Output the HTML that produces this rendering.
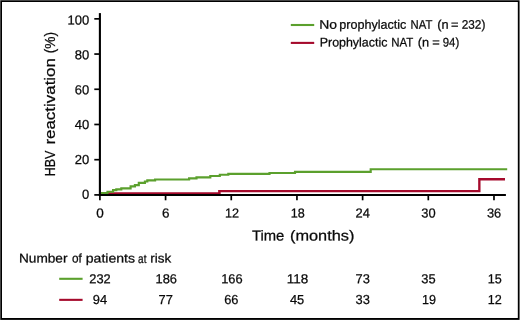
<!DOCTYPE html>
<html><head><meta charset="utf-8">
<style>
html,body{margin:0;padding:0;background:#fff;}
body{width:520px;height:320px;overflow:hidden;}
svg{display:block;will-change:transform;}
text{font-family:"Liberation Sans",sans-serif;fill:#0a0a0a;stroke:#0a0a0a;stroke-width:0.25px;}
</style></head><body>
<svg width="520" height="320" viewBox="0 0 520 320">
<rect x="0" y="0" width="520" height="320" fill="#fff"/>
<g shape-rendering="crispEdges">
<rect x="0" y="0" width="520" height="2" fill="#000"/>
<rect x="0" y="318" width="520" height="2" fill="#000"/>
<rect x="0" y="0" width="2" height="320" fill="#000"/>
<rect x="518" y="0" width="2" height="320" fill="#000"/>
<rect x="517" y="2" width="1" height="316" fill="#d0d0d0"/>
<rect x="0" y="0" width="520" height="1" fill="#454545"/>
<rect x="0" y="0" width="1" height="320" fill="#454545"/>
<rect x="519" y="0" width="1" height="320" fill="#6e6e6e"/>
<rect x="1" y="319" width="518" height="1" fill="#1c1c1c"/>
<rect x="0" y="0" width="1" height="1" fill="#6a6a6a"/>
<rect x="519" y="0" width="1" height="1" fill="#999"/>
<rect x="0" y="319" width="1" height="1" fill="#555"/>
<rect x="519" y="319" width="1" height="1" fill="#808080"/>
</g>
<polyline fill="none" stroke="#a50a2c" stroke-width="2.1" points="100.9,193.2 220.4,193.2"/>
<polyline fill="none" stroke="#a50a2c" stroke-width="2.35" stroke-linejoin="miter" points="219.3,194.0 219.3,191.1 479.35,191.1 479.35,179.2 505.0,179.2"/>
<polyline fill="none" stroke="#5ba02d" stroke-width="2.15" stroke-linejoin="miter" points="100.9,192.95 107.5,192.95 107.5,191.7 113.1,191.7 113.1,190.1 116.3,190.1 116.3,189.4 121.3,189.4 121.3,188.4 130.6,188.4 130.6,186.3 134.9,186.3 134.9,185.1 138.8,185.1 138.8,182.8 144.9,182.8 144.9,181.5 147.3,181.5 147.3,180.4 155.1,180.4 155.1,179.45 189.1,179.45 189.1,178.3 196.5,178.3 196.5,177.3 210.3,177.3 210.3,176.0 219.8,176.0 219.8,174.7 228.3,174.7 228.3,173.9 269.5,173.9 269.5,173.0 295.0,173.0 295.0,171.8 370.7,171.8 370.7,169.25 507.2,169.25"/>
<g stroke="#000" stroke-width="2.1" fill="none">
<line x1="99.9" y1="13.1" x2="99.9" y2="196.0"/>
<line x1="98.85" y1="194.95" x2="505.9" y2="194.95"/>
</g>
<g stroke="#000" stroke-width="1.7" fill="none">
<line x1="94.3" y1="18.85" x2="99.9" y2="18.85"/>
<line x1="94.3" y1="54.06" x2="99.9" y2="54.06"/>
<line x1="94.3" y1="89.27" x2="99.9" y2="89.27"/>
<line x1="94.3" y1="124.48" x2="99.9" y2="124.48"/>
<line x1="94.3" y1="159.69" x2="99.9" y2="159.69"/>
<line x1="94.3" y1="194.90" x2="99.9" y2="194.90"/>
<line x1="99.90" y1="194.95" x2="99.90" y2="200.3"/>
<line x1="165.58" y1="194.95" x2="165.58" y2="200.3"/>
<line x1="231.26" y1="194.95" x2="231.26" y2="200.3"/>
<line x1="296.94" y1="194.95" x2="296.94" y2="200.3"/>
<line x1="362.62" y1="194.95" x2="362.62" y2="200.3"/>
<line x1="428.30" y1="194.95" x2="428.30" y2="200.3"/>
<line x1="493.98" y1="194.95" x2="493.98" y2="200.3"/>
</g>
<line x1="290.8" y1="25" x2="314.2" y2="25" stroke="#5ba02d" stroke-width="2.1"/>
<line x1="290.8" y1="42.9" x2="314.2" y2="42.9" stroke="#a50a2c" stroke-width="2.1"/>
<line x1="59.2" y1="278.8" x2="82.6" y2="278.8" stroke="#5ba02d" stroke-width="2.1"/>
<line x1="59.2" y1="299.85" x2="82.6" y2="299.85" stroke="#a50a2c" stroke-width="2.1"/>
<text font-size="12.5" transform="translate(319.19,28.7) rotate(0.03) scale(1.1113,1)">No</text>
<text font-size="12.5" transform="translate(339.30,28.7) rotate(0.03) scale(1.0053,1)">prophylactic</text>
<text font-size="12.5" transform="translate(410.60,28.7) rotate(0.03) scale(0.9046,1)">NAT</text>
<text font-size="12.5" transform="translate(437.20,28.7) rotate(0.03) scale(1.0213,1)">(n</text>
<text font-size="12.5" transform="translate(451.10,28.7) rotate(0.03) scale(1.0286,1)">=</text>
<text font-size="12.5" transform="translate(461.80,28.7) rotate(0.03) scale(0.9414,1)">232)</text>
<text font-size="12.5" transform="translate(319.71,46.4) rotate(0.03) scale(0.9950,1)">Prophylactic</text>
<text font-size="12.5" transform="translate(391.28,46.4) rotate(0.03) scale(0.9174,1)">NAT</text>
<text font-size="12.5" transform="translate(417.80,46.4) rotate(0.03) scale(1.0213,1)">(n</text>
<text font-size="12.5" transform="translate(432.20,46.4) rotate(0.03) scale(1.0286,1)">=</text>
<text font-size="12.5" transform="translate(442.80,46.4) rotate(0.03) scale(0.9104,1)">94)</text>
<text font-size="14.5" transform="translate(251.90,240.5) rotate(0.03) scale(1.0215,1)">Time</text>
<text font-size="14.5" transform="translate(290.00,240.5) rotate(0.03) scale(1.1263,1)">(months)</text>
<text font-size="12.6" transform="translate(18.97,262.6) rotate(0.03) scale(1.0838,1)">Number</text>
<text font-size="12.6" transform="translate(72.00,262.6) rotate(0.03) scale(0.9360,1)">of</text>
<text font-size="12.6" transform="translate(85.80,262.6) rotate(0.03) scale(1.1161,1)">patients</text>
<text font-size="12.6" transform="translate(138.10,262.6) rotate(0.03) scale(0.7906,1)">at</text>
<text font-size="12.6" transform="translate(150.20,262.6) rotate(0.03) scale(1.0696,1)">risk</text>
<text font-size="14.5" transform="translate(54.8,176.16) rotate(-90) scale(0.8578,1)">HBV</text>
<text font-size="14.5" transform="translate(54.8,144.60) rotate(-90) scale(1.1676,1)">reactivation</text>
<text font-size="14.5" transform="translate(54.8,53.30) rotate(-90) scale(0.9461,1)">(%)</text>
<text font-size="13.0" transform="translate(96.26,217.6) rotate(0.03) scale(1.0400,1)">0</text>
<text font-size="13.0" transform="translate(161.94,217.6) rotate(0.03) scale(1.0400,1)">6</text>
<text font-size="13.0" transform="translate(225.01,217.6) rotate(0.03) scale(0.9698,1)">12</text>
<text font-size="13.0" transform="translate(290.69,217.6) rotate(0.03) scale(0.9698,1)">18</text>
<text font-size="13.0" transform="translate(355.57,217.6) rotate(0.03) scale(0.9909,1)">24</text>
<text font-size="13.0" transform="translate(421.25,217.6) rotate(0.03) scale(0.9909,1)">30</text>
<text font-size="13.0" transform="translate(486.93,217.6) rotate(0.03) scale(0.9909,1)">36</text>
<text font-size="13.0" transform="translate(89.30,283.3) rotate(0.03) scale(0.9879,1)">232</text>
<text font-size="13.0" transform="translate(155.48,283.3) rotate(0.03) scale(0.9925,1)">186</text>
<text font-size="13.0" transform="translate(221.16,283.3) rotate(0.03) scale(0.9925,1)">166</text>
<text font-size="13.0" transform="translate(286.84,283.3) rotate(0.03) scale(1.0393,1)">118</text>
<text font-size="13.0" transform="translate(355.57,283.3) rotate(0.03) scale(0.9909,1)">73</text>
<text font-size="13.0" transform="translate(421.25,283.3) rotate(0.03) scale(0.9909,1)">35</text>
<text font-size="13.0" transform="translate(487.73,283.3) rotate(0.03) scale(0.9698,1)">15</text>
<text font-size="13.0" transform="translate(92.85,304.1) rotate(0.03) scale(0.9909,1)">94</text>
<text font-size="13.0" transform="translate(158.53,304.1) rotate(0.03) scale(0.9909,1)">77</text>
<text font-size="13.0" transform="translate(224.21,304.1) rotate(0.03) scale(0.9909,1)">66</text>
<text font-size="13.0" transform="translate(289.89,304.1) rotate(0.03) scale(0.9909,1)">45</text>
<text font-size="13.0" transform="translate(355.57,304.1) rotate(0.03) scale(0.9909,1)">33</text>
<text font-size="13.0" transform="translate(422.05,304.1) rotate(0.03) scale(0.9698,1)">19</text>
<text font-size="13.0" transform="translate(487.73,304.1) rotate(0.03) scale(0.9698,1)">12</text>
<text font-size="13.0" transform="translate(67.44,24.50) rotate(0.03) scale(1.0000,1)">100</text>
<text font-size="13.0" transform="translate(74.67,59.35) rotate(0.03) scale(1.0000,1)">80</text>
<text font-size="13.0" transform="translate(74.67,94.20) rotate(0.03) scale(1.0000,1)">60</text>
<text font-size="13.0" transform="translate(74.67,129.05) rotate(0.03) scale(1.0000,1)">40</text>
<text font-size="13.0" transform="translate(74.67,163.90) rotate(0.03) scale(1.0000,1)">20</text>
<text font-size="13.0" transform="translate(81.90,198.75) rotate(0.03) scale(1.0000,1)">0</text>
</svg>
</body></html>
